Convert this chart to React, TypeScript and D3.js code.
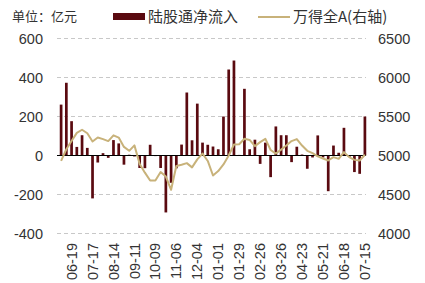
import React from "react";
import * as d3 from "d3";

const categories = [
  "06-05","06-12","06-19","06-26","07-03","07-10","07-17","07-24","07-31","08-07",
  "08-14","08-21","08-28","09-04","09-11","09-18","09-25","10-02","10-09","10-16",
  "10-23","10-30","11-06","11-13","11-20","11-27","12-04","12-11","12-18","12-25",
  "01-01","01-08","01-15","01-22","01-29","02-05","02-12","02-19","02-26","03-05",
  "03-12","03-19","03-26","04-02","04-09","04-16","04-23","04-30","05-07","05-14",
  "05-21","05-28","06-04","06-11","06-18","06-25","07-02","07-09","07-15",
];

const netInflow = [
  261, 373, 176, 44, 104, 39, -220, -36, 12, -12,
  79, 62, -47, 4, -5, -64, -65, 55, -3, -64,
  -292, -140, -66, 56, 323, 78, 266, 66, 55, 46,
  32, 200, 441, 487, 3, 342, 32, 81, -43, 66,
  -111, 149, 104, 104, -34, 45, 5, -68, -10, 103,
  -10, -183, 51, 14, 142, -8, -85, -94, 200,
];

const windA = [
  4930, 5080, 5185, 5290, 5330, 5285, 5180, 5230, 5210, 5185,
  5258, 5230, 5110, 5060, 5130, 4890, 4780, 4680, 4680, 4788,
  4730, 4560, 4866, 4882, 4902, 4848, 4950, 5025, 4930, 4744,
  4800, 4885, 5000, 5141, 5145, 5214, 5200, 5120, 5171, 5214,
  5070, 5025, 5075, 5128, 5185, 5210, 5128, 5060, 5030, 4990,
  4962, 4936, 4979, 4957, 5043, 4979, 4944, 4936, 5010,
];

const tickLabels = [
  "06-19","07-17","08-14","09-11","10-09","11-06","12-04","01-01",
  "01-29","02-26","03-26","04-23","05-21","06-18","07-15",
];

const leftTicks = [-400, -200, 0, 200, 400, 600];
const rightTicks = [4000, 4500, 5000, 5500, 6000, 6500];

const BAR_COLOR = "#5a0a10";
const LINE_COLOR = "#c8b27a";
const TEXT_COLOR = "#333";
const FONT = "'Liberation Sans', Arial, 'Noto Sans CJK SC', sans-serif";
const CJK = "'Noto Sans CJK SC', 'Liberation Sans', sans-serif";

export default function App() {
  const W = 425, H = 283;
  const plotLeft = 57, plotRight = 366;
  const x = d3.scalePoint<string>().domain(categories).range([61.1, 364.9]);
  const yL = d3.scaleLinear().domain([-400, 600]).range([233.5, 38.5]);
  const yR = d3.scaleLinear().domain([4000, 6500]).range([233.5, 38.5]);
  const barW = 2.7;

  const line = d3
    .line<number>()
    .x((_, i) => x(categories[i]) as number)
    .y((d) => yR(d));

  return (
    <svg width={W} height={H} style={{ position: "absolute", left: 0, top: 0, background: "#fff" }}>
      {leftTicks.filter((t) => t !== 0).map((t) => (
        <line key={t} x1={plotLeft} x2={plotRight} y1={yL(t)} y2={yL(t)}
          stroke="#c8c8c8" strokeWidth={1} strokeDasharray="4,3" />
      ))}
      {leftTicks.map((t) => (
        <text key={t} x={43} y={yL(t)} dy="0.35em" textAnchor="end"
          fontFamily={FONT} fontSize={14.5} fill={TEXT_COLOR}>{t}</text>
      ))}
      {rightTicks.map((t) => (
        <text key={t} x={378} y={yR(t)} dy="0.35em" textAnchor="start"
          fontFamily={FONT} fontSize={14.5} fill={TEXT_COLOR}>{t}</text>
      ))}
      {netInflow.map((v, i) => (
        <rect key={i} x={(x(categories[i]) as number) - barW / 2}
          y={Math.min(yL(v), yL(0))} width={barW}
          height={Math.abs(yL(v) - yL(0))} fill={BAR_COLOR} />
      ))}
      <line x1={plotLeft} x2={plotRight} y1={yL(0)} y2={yL(0)} stroke="#000" strokeWidth={1.2} />
      <path d={line(windA) || ""} fill="none" stroke={LINE_COLOR} strokeWidth={2} strokeLinejoin="round" />
      {tickLabels.map((t) => {
        const px = x(t) as number;
        return (
          <text key={t} transform={`translate(${px},243) rotate(-90)`} dy="0.35em"
            textAnchor="end" fontFamily={FONT} fontSize={14.5} fill={TEXT_COLOR}>{t}</text>
        );
      })}
      <text x={12} y={21} fontFamily={CJK} fontSize={13} fill={TEXT_COLOR}>单位：亿元</text>
      <rect x={113} y={13} width={32} height={7} fill={BAR_COLOR} />
      <text x={148} y={22} fontFamily={CJK} fontSize={15} fill={TEXT_COLOR}>陆股通净流入</text>
      <line x1={258} x2={290} y1={17} y2={17} stroke={LINE_COLOR} strokeWidth={2} />
      <text x={293} y={22} fontFamily={CJK} fontSize={15} fill={TEXT_COLOR}>万得全A(右轴)</text>
    </svg>
  );
}
